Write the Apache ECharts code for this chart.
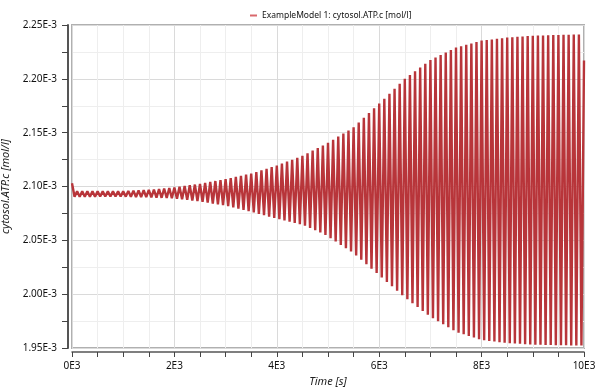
<!DOCTYPE html>
<html>
<head>
<meta charset="utf-8">
<script src="https://cdn.jsdelivr.net/npm/echarts@6/dist/echarts.min.js"></script>
<style>
html,body{margin:0;padding:0;background:#fff;}
#chart{width:600px;height:392px;}
</style>
</head>
<body>
<div id="chart"></div>
<script>
// Time axis samples [s]
var timeS = [0,50,100,150,200,250,300,350,400,450,500,550,600,650,700,750,800,850,900,950,
1000,1050,1100,1150,1200,1250,1300,1350,1400,1450,1500,1550,1600,1650,1700,1750,1800,1850,1900,1950,
2000,2050,2100,2150,2200,2250,2300,2350,2400,2450,2500,2550,2600,2650,2700,2750,2800,2850,2900,2950,
3000,3050,3100,3150,3200,3250,3300,3350,3400,3450,3500,3550,3600,3650,3700,3750,3800,3850,3900,3950,
4000,4050,4100,4150,4200,4250,4300,4350,4400,4450,4500,4550,4600,4650,4700,4750,4800,4850,4900,4950,
5000,5050,5100,5150,5200,5250,5300,5350,5400,5450,5500,5550,5600,5650,5700,5750,5800,5850,5900,5950,
6000,6050,6100,6150,6200,6250,6300,6350,6400,6450,6500,6550,6600,6650,6700,6750,6800,6850,6900,6950,
7000,7050,7100,7150,7200,7250,7300,7350,7400,7450,7500,7550,7600,7650,7700,7750,7800,7850,7900,7950,
8000,8050,8100,8150,8200,8250,8300,8350,8400,8450,8500,8550,8600,8650,8700,8750,8800,8850,8900,8950,
9000,9050,9100,9150,9200,9250,9300,9350,9400,9450,9500,9550,9600,9650,9700,9750,9800,9850,9900,9950,
10000];

// cytosol.ATP.c in units of 1E-3 mol/l
var atpE3 = [2.1030,2.0905,2.0955,2.0905,2.0955,2.0905,2.0955,2.0905,2.0955,2.0905,2.0955,2.0907,2.0955,2.0907,2.0955,2.0907,2.0955,2.0907,2.0955,2.0907,
2.0955,2.0906,2.0958,2.0905,2.0960,2.0903,2.0963,2.0902,2.0965,2.0901,2.0968,2.0899,2.0972,2.0897,2.0977,2.0895,2.0981,2.0893,2.0986,2.0891,
2.0990,2.0887,2.0997,2.0882,2.1004,2.0876,2.1011,2.0870,2.1018,2.0865,2.1025,2.0858,2.1034,2.0850,2.1042,2.0842,2.1051,2.0834,2.1059,2.0826,
2.1068,2.0817,2.1078,2.0805,2.1089,2.0794,2.1099,2.0782,2.1110,2.0771,2.1120,2.0759,2.1135,2.0746,2.1150,2.0733,2.1165,2.0720,2.1180,2.0707,
2.1195,2.0697,2.1213,2.0685,2.1231,2.0673,2.1249,2.0661,2.1267,2.0649,2.1285,2.0635,2.1309,2.0614,2.1333,2.0593,2.1357,2.0572,2.1381,2.0551,
2.1405,2.0520,2.1434,2.0489,2.1463,2.0458,2.1492,2.0427,2.1521,2.0396,2.1550,2.0360,2.1594,2.0319,2.1638,2.0278,2.1682,2.0237,2.1726,2.0196,
2.1770,2.0155,2.1816,2.0114,2.1862,2.0073,2.1908,2.0032,2.1954,1.9991,2.2000,1.9952,2.2035,1.9916,2.2070,1.9880,2.2105,1.9844,2.2140,1.9808,
2.2175,1.9776,2.2198,1.9748,2.2221,1.9720,2.2244,1.9692,2.2267,1.9664,2.2290,1.9642,2.2303,1.9627,2.2316,1.9612,2.2329,1.9597,2.2342,1.9582,
2.2355,1.9572,2.2361,1.9566,2.2366,1.9560,2.2372,1.9554,2.2377,1.9548,2.2383,1.9544,2.2386,1.9541,2.2390,1.9539,2.2393,1.9536,2.2397,1.9533,
2.2400,1.9531,2.2402,1.9530,2.2403,1.9528,2.2405,1.9527,2.2406,1.9526,2.2408,1.9525,2.2409,1.9525,2.2410,1.9524,2.2411,1.9524,2.2412,1.9524,
2.2170];

var seriesName = 'ExampleModel 1: cytosol.ATP.c [mol/l]';
var xAxisName = 'Time [s]';
var yAxisName = 'cytosol.ATP.c [mol/l]';

var points = timeS.map(function (t, i) { return [t, atpE3[i]]; });

var chart = echarts.init(document.getElementById('chart'), null, {renderer: 'canvas'});
var FONT = '"Noto Sans", "DejaVu Sans", sans-serif';
chart.setOption({
  animation: false,
  backgroundColor: '#ffffff',
  legend: {
    show: true,
    left: 245,
    top: 6,
    icon: 'rect',
    itemWidth: 7,
    itemHeight: 2,
    itemStyle: {color: '#d9686c'},
    textStyle: {fontFamily: FONT, fontSize: 8.5, color: '#111'},
    data: [seriesName]
  },
  grid: {
    left: 72, right: 16, top: 25, bottom: 44,
    outerBoundsMode: 'none',
    containLabel: false,
    show: true,
    borderColor: '#b0b0b0',
    borderWidth: 2,
    backgroundColor: 'transparent'
  },
  xAxis: {
    type: 'value',
    min: 0, max: 10000, interval: 2000,
    offset: 4,
    name: xAxisName,
    nameLocation: 'middle',
    nameGap: 23,
    nameTextStyle: {fontFamily: FONT, fontSize: 11, fontStyle: 'italic', color: '#222'},
    axisLine: {show: true, onZero: false, lineStyle: {color: '#555', width: 1.5}},
    axisTick: {show: true, length: 5, lineStyle: {color: '#444'}},
    minorTick: {show: true, splitNumber: 4, length: 5, lineStyle: {color: '#444'}},
    axisLabel: {margin: 9, fontFamily: FONT, fontSize: 10, color: '#111',
      formatter: function (v) { return (v / 1000) + 'E3'; }},
    splitLine: {show: true, lineStyle: {color: '#dadada', width: 1}},
    minorSplitLine: {show: true, lineStyle: {color: '#eeeeee', width: 1}}
  },
  yAxis: {
    type: 'value',
    min: 1.95, max: 2.25, interval: 0.05,
    offset: 4,
    name: yAxisName,
    nameLocation: 'middle',
    nameGap: 41,
    nameTextStyle: {fontFamily: FONT, fontSize: 11, fontStyle: 'italic', color: '#222'},
    axisLine: {show: true, onZero: false, lineStyle: {color: '#555', width: 2}},
    axisTick: {show: true, length: 6, lineStyle: {color: '#444'}},
    minorTick: {show: true, splitNumber: 2, length: 6, lineStyle: {color: '#444'}},
    axisLabel: {margin: 11, fontFamily: FONT, fontSize: 10, color: '#111',
      formatter: function (v) { return v.toFixed(2) + 'E-3'; }},
    splitLine: {show: true, lineStyle: {color: '#dadada', width: 1}},
    minorSplitLine: {show: true, lineStyle: {color: '#eeeeee', width: 1}}
  },
  series: [{
    name: seriesName,
    type: 'line',
    data: points,
    symbol: 'none',
    showSymbol: false,
    clip: true,
    lineStyle: {color: '#b8353a', width: 2.4, join: 'bevel'},
    itemStyle: {color: '#d9686c'}
  }]
});
</script>
</body>
</html>
